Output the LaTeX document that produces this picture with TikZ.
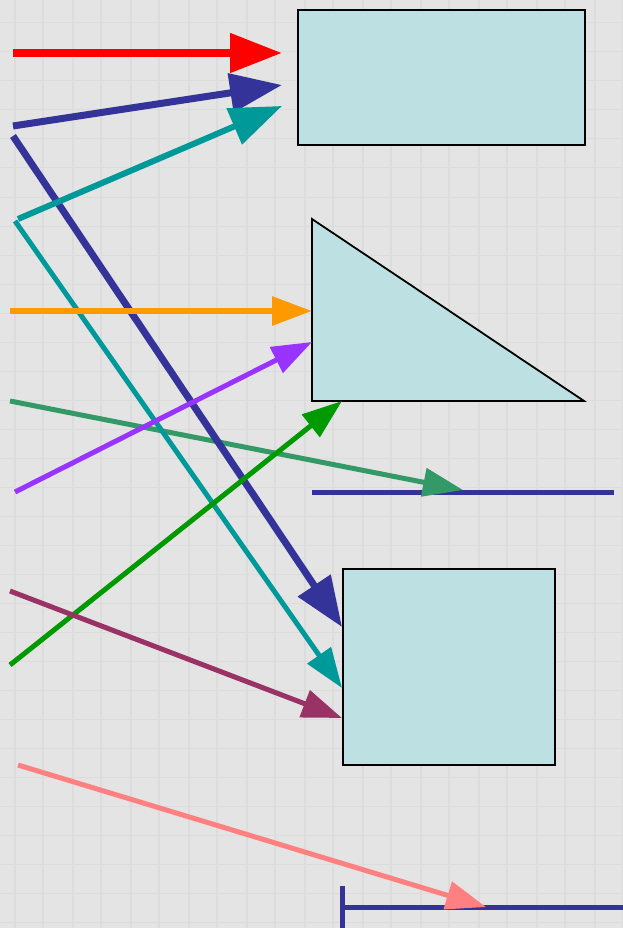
\documentclass[tikz,border=0pt]{standalone}
\usetikzlibrary{arrows.meta}
\definecolor{bg}{HTML}{E4E4E4}
\definecolor{stripe}{HTML}{DCDCDC}
\definecolor{boxfill}{HTML}{BDE0E3}
\definecolor{dblue}{HTML}{333399}
\definecolor{teal2}{HTML}{009999}
\definecolor{orange2}{HTML}{FF9900}
\definecolor{purple2}{HTML}{9933FF}
\definecolor{sea}{HTML}{339966}
\definecolor{green2}{HTML}{009900}
\definecolor{maroon2}{HTML}{993366}
\definecolor{pink2}{HTML}{FF8080}
\tikzset{
  box/.style={draw=black, line width=1.8pt, fill=boxfill, inner sep=0pt, anchor=north west},
  bigarrow/.style={-{Triangle[length=52pt,width=38pt]}},
  midarrow/.style={-{Triangle[length=40pt,width=28pt]}},
  barline/.style={draw=dblue, line width=5pt},
}
\begin{document}
\begin{tikzpicture}[x=1pt,y=-1pt]
\useasboundingbox (0,0) rectangle (623,928);
\fill[bg] (0,0) rectangle (623,928);
% faint plaid texture
\foreach \k in {0,...,11}{
  \draw[stripe, line width=1.2pt] (15+58*\k,0) -- (15+58*\k,928);
  \draw[stripe, line width=1.2pt] (43+58*\k,0) -- (43+58*\k,928);
}
\foreach \k in {0,...,32}{
  \draw[stripe, line width=1.0pt] (0,23+29*\k) -- (623,23+29*\k);
}
% shapes
\node[box, minimum width=287pt, minimum height=135pt] (r1) at (297,9) {};
\node[box, minimum width=212pt, minimum height=196pt] (r2) at (342,568) {};
\coordinate (tA) at (312,219);
\coordinate (tB) at (312,401);
\coordinate (tC) at (584,401);
\filldraw[fill=boxfill, draw=black, line width=1.8pt] (tA) -- (tB) -- (tC) -- cycle;
% bars
\coordinate (b1s) at (312,492);
\coordinate (b1e) at (614,492);
\draw[barline] (b1s) -- (b1e);
\coordinate (b2s) at (342,907);
\coordinate (b2e) at (623,907);
\coordinate (b2t) at (342,886);
\coordinate (b2b) at (342,928);
\draw[barline] (b2s) -- (b2e);
\draw[barline] (b2t) -- (b2b);
% arrow endpoints
\coordinate (s1) at (13,53);   \coordinate (e1) at (282,53);
\coordinate (s2) at (13,126);  \coordinate (e2) at (282,85);
\coordinate (s3) at (18,219);  \coordinate (e3) at (282,106);
\coordinate (s4) at (13,136);  \coordinate (e4) at (342,627);
\coordinate (s5) at (15,221);  \coordinate (e5) at (342,688);
\coordinate (s6) at (10,311);  \coordinate (e6) at (312,311);
\coordinate (s7) at (15,492);  \coordinate (e7) at (312,342);
\coordinate (s8) at (10,401);  \coordinate (e8) at (463,490);
\coordinate (s9) at (10,665);  \coordinate (e9) at (342,401);
\coordinate (s10) at (10,591); \coordinate (e10) at (342,718);
\coordinate (s11) at (18,765); \coordinate (e11) at (486,907);
% arrows
\draw[sea, line width=5pt, midarrow] (s8) -- (e8);
\draw[teal2, line width=5pt, midarrow] (s5) -- (e5);
\draw[dblue, line width=7pt, -{Triangle[length=50pt,width=38pt]}] (s4) -- (e4);
\draw[purple2, line width=5pt, midarrow] (s7) -- (e7);
\draw[green2, line width=5pt, midarrow] (s9) -- (e9);
\draw[maroon2, line width=5pt, midarrow] (s10) -- (e10);
\draw[orange2, line width=6pt, midarrow] (s6) -- (e6);
\draw[pink2, line width=5pt, midarrow] (s11) -- (e11);
\draw[red, line width=8pt, bigarrow] (s1) -- (e1);
\draw[dblue, line width=7pt, bigarrow] (s2) -- (e2);
\draw[teal2, line width=6pt, bigarrow] (s3) -- (e3);
\end{tikzpicture}
\end{document}
